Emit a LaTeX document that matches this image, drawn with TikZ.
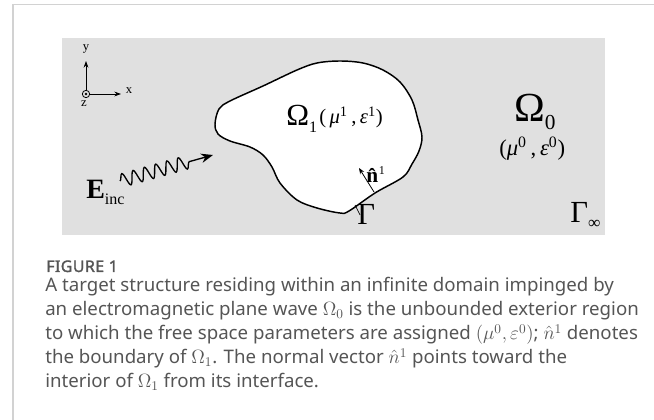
\documentclass[tikz,border=0pt]{standalone}
\usepackage{fontspec}
\setmainfont{Liberation Serif}
\newfontfamily\capfont{Noto Sans}
\newfontfamily\figfont{Noto Sans}[FakeBold=1.6, LetterSpace=2.5]
\usetikzlibrary{arrows.meta,decorations.pathmorphing,positioning}
\definecolor{panelgray}{RGB}{224,224,224}
\definecolor{framegray}{RGB}{210,210,210}
\definecolor{capgray}{RGB}{85,85,85}

\begin{document}
\begin{tikzpicture}[
  x=0.75pt, y=-0.75pt,
  lbl/.style={inner sep=0pt, anchor=base west},
  axis/.style={-{Stealth[length=5pt, width=3.6pt]}, line width=0.6pt},
  capline/.style={inner sep=0pt, anchor=base west, text=capgray, font=\capfont\fontsize{14}{16}\selectfont},
  boundary/.style={line width=1.1pt, fill=white}
]
\useasboundingbox (0,0) rectangle (654,420);

% Panel
\draw[framegray, line width=1pt] (13,420) -- (13,4.5) -- (654,4.5);
\fill[panelgray] (62,38) rectangle (605,235);

% Target structure
\draw[boundary] plot[smooth cycle, tension=0.55] coordinates {
  (215,124) (219,109) (230,101) (263,86) (297,70) (317,63) (340,61)
  (363,63) (383,70) (400,82) (412,100) (418,120) (422,137) (419,151)
  (412,164) (403,177) (375,193) (349,211) (340,213) (317,208)
  (297,200) (280,183) (272,167) (263,155) (250,147) (230,141) (218,134)};

% Axes
\node[circle, draw, line width=0.6pt, inner sep=0pt, minimum size=5.5pt] (orig) at (86,94) {};
\fill (orig) circle (1.1pt);
\coordinate (ytip) at (86,61);
\coordinate (xtip) at (121,94);
\draw[axis] (orig) -- (ytip);
\draw[axis] (orig) -- (xtip);
\node[font=\fontsize{9.5}{9.5}\selectfont, inner sep=0pt] (ylab) at (86,49) {y};
\node[font=\fontsize{9.5}{9.5}\selectfont, inner sep=0pt] (xlab) at (129,91) {x};
\node[font=\fontsize{9.5}{9.5}\selectfont, inner sep=0pt] (zlab) at (84,104) {z};

% Incident wave
\coordinate (wstart) at (120,181);
\coordinate (wend) at (213,155);
\draw[line width=1pt, decorate,
  decoration={snake, segment length=8.8pt, amplitude=5pt, post length=15pt},
  -{Stealth[length=9pt, width=7pt]}] (wstart) -- (wend);
\node[lbl, font=\fontsize{21}{21}\selectfont] (einc) at (86,199)
  {\textbf{E}\raisebox{-4.5pt}{\fontsize{12}{12}\selectfont inc}};

% Interior region
\node[lbl, font=\fontsize{23}{23}\selectfont] (om1) at (286,126)
  {Ω\raisebox{-5pt}{\fontsize{12}{12}\selectfont 1}};
\node[lbl, font=\fontsize{15.5}{15.5}\selectfont] (par1) at (319,123.5)
  {(\,\textit{μ}\textsuperscript{1}\,,\,\textit{ε}\textsuperscript{1})};

% Normal vector
\coordinate (nbase) at (374,192);
\coordinate (ntip) at (359,168);
\draw[-{Stealth[length=4.5pt, width=3.5pt]}, line width=0.6pt] (nbase) -- (ntip);
\node[lbl, font=\fontsize{16}{16}\selectfont] (nhat) at (366,183)
  {\textbf{\^{n}}\kern-2pt\raisebox{6pt}{\fontsize{9}{9}\selectfont 1}};

% Interface
\coordinate (gfoot) at (355,205);
\coordinate (gtop) at (360,215);
\draw[line width=0.5pt] (gfoot) -- (gtop);
\node[lbl, font=\fontsize{23}{23}\selectfont] (gam) at (357,225) {Γ};

% Exterior region
\node[lbl, font=\fontsize{31}{31}\selectfont] (om0) at (514,122)
  {Ω\raisebox{-6pt}{\fontsize{16}{16}\selectfont 0}};
\node[lbl, font=\fontsize{17}{17}\selectfont] (par0) at (499,156)
  {(\textit{μ}\textsuperscript{0}\,,\,\textit{ε}\textsuperscript{0})};
\node[lbl, font=\fontsize{23}{23}\selectfont] (ginf) at (570,223)
  {Γ\raisebox{-4pt}{\fontsize{13}{13}\selectfont ∞}};

% Caption
\node[capline, font=\figfont\fontsize{12}{12}\selectfont] (fig) at (46,272) {FIGURE 1};
\node[capline] (cap1) at (45,292) {A target structure residing within an infinite domain impinged by};
\node[capline] (cap2) at (45,316) {an electromagnetic plane wave $\Omega_0$ is the unbounded exterior region};
\node[capline] (cap3) at (45,340) {to which the free space parameters are assigned $(\mu^0,\varepsilon^0)$; \smash{$\hat{n}^1$} denotes};
\node[capline] (cap4) at (45,364) {the boundary of $\Omega_1$. The normal vector \smash{$\hat{n}^1$} points toward the};
\node[capline] (cap5) at (45,388) {interior of $\Omega_1$ from its interface.};

\end{tikzpicture}
\end{document}
